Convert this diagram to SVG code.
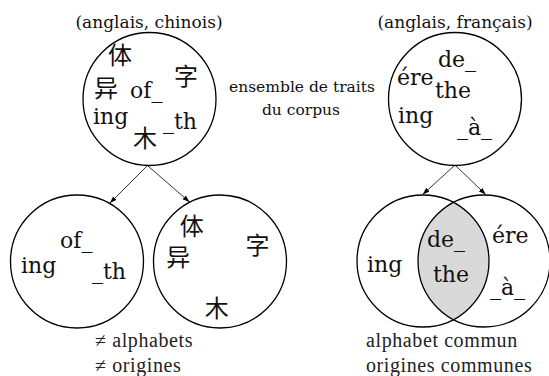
<svg xmlns="http://www.w3.org/2000/svg" width="549" height="376" viewBox="0 0 549 376">
<style>
.lbl{font-family:"DejaVu Serif","Liberation Serif",serif;fill:#111}
.hd{font-size:17px;text-anchor:middle}
.mid{font-size:15.5px;text-anchor:middle}
.t{font-size:22px}
.cjk{font-family:"Noto Sans CJK SC","Noto Sans CJK JP",sans-serif;font-size:24px;text-anchor:middle;fill:#111}
.ft{font-family:"Liberation Serif",serif;font-size:20px;letter-spacing:0.6px;fill:#222}
.c{fill:none;stroke:#000;stroke-width:1.3}
.ar{stroke:#000;stroke-width:0.8;fill:none;marker-end:url(#ah)}
</style>
<defs>
<marker id="ah" markerUnits="userSpaceOnUse" markerWidth="8" markerHeight="6" refX="7" refY="3" orient="auto">
<path d="M0,0.5 L7,3 L0,5.5 Z" fill="#000"/>
</marker>
</defs>
<rect width="549" height="376" fill="#fff"/>
<text class="lbl hd" x="149" y="28">(anglais, chinois)</text>
<text class="lbl hd" x="455" y="28">(anglais, français)</text>
<g id="corpus-label">
<text class="lbl mid" x="302" y="92">ensemble de traits</text>
<text class="lbl mid" x="301" y="115">du corpus</text>
</g>
<g id="en-zh">
<circle class="c" cx="149.5" cy="99" r="66.5"/>
<text class="cjk" x="120" y="64">体</text>
<text class="cjk" x="186" y="85">字</text>
<text class="cjk" x="106" y="96.5">异</text>
<text class="cjk" x="145" y="146.5">木</text>
<text class="lbl t" x="130" y="98">of_</text>
<text class="lbl t" x="93" y="124">ing</text>
<text class="lbl t" x="163" y="129">_th</text>
</g>
<g id="en-fr">
<circle class="c" cx="455" cy="99" r="66.5"/>
<text class="lbl t" x="438" y="67">de_</text>
<text class="lbl t" x="397" y="85">ére</text>
<text class="lbl t" x="435" y="98">the</text>
<text class="lbl t" x="398" y="123">ing</text>
<text class="lbl t" x="457" y="135">_à_</text>
</g>
<g id="en-alphabet">
<circle class="c" cx="77" cy="261.5" r="66.5"/>
<text class="lbl t" x="60" y="248">of_</text>
<text class="lbl t" x="21" y="273">ing</text>
<text class="lbl t" x="92" y="279">_th</text>
</g>
<g id="zh-alphabet">
<circle class="c" cx="220" cy="261.5" r="66.5"/>
<text class="cjk" x="191.7" y="235">体</text>
<text class="cjk" x="257.5" y="254">字</text>
<text class="cjk" x="178.3" y="265.7">异</text>
<text class="cjk" x="216.7" y="317.3">木</text>
</g>
<g id="venn">
<path d="M453.5,202.47 A66,66 0 0 1 453.5,319.53 A66,66 0 0 1 453.5,202.47 Z" fill="#d9d9d9"/>
<circle class="c" cx="423" cy="261" r="66"/>
<circle class="c" cx="484" cy="261" r="66"/>
<text class="lbl t" x="367" y="272">ing</text>
<text class="lbl t" x="427" y="247">de_</text>
<text class="lbl t" x="433" y="282">the</text>
<text class="lbl t" x="492" y="243">ére</text>
<text class="lbl t" x="490" y="295">_à_</text>
</g>
<g id="connectors">
<line class="ar" x1="147" y1="166" x2="110" y2="203"/>
<line class="ar" x1="148" y1="166" x2="189.5" y2="202"/>
<line class="ar" x1="454.5" y1="165.5" x2="422.7" y2="194.5"/>
<line class="ar" x1="455.5" y1="165.5" x2="485.7" y2="194.5"/>
</g>
<g id="captions">
<text class="ft" x="95" y="347">≠ alphabets</text>
<text class="ft" x="95" y="372">≠ origines</text>
<text class="ft" x="366" y="347">alphabet commun</text>
<text class="ft" x="366" y="372">origines communes</text>
</g>
</svg>
